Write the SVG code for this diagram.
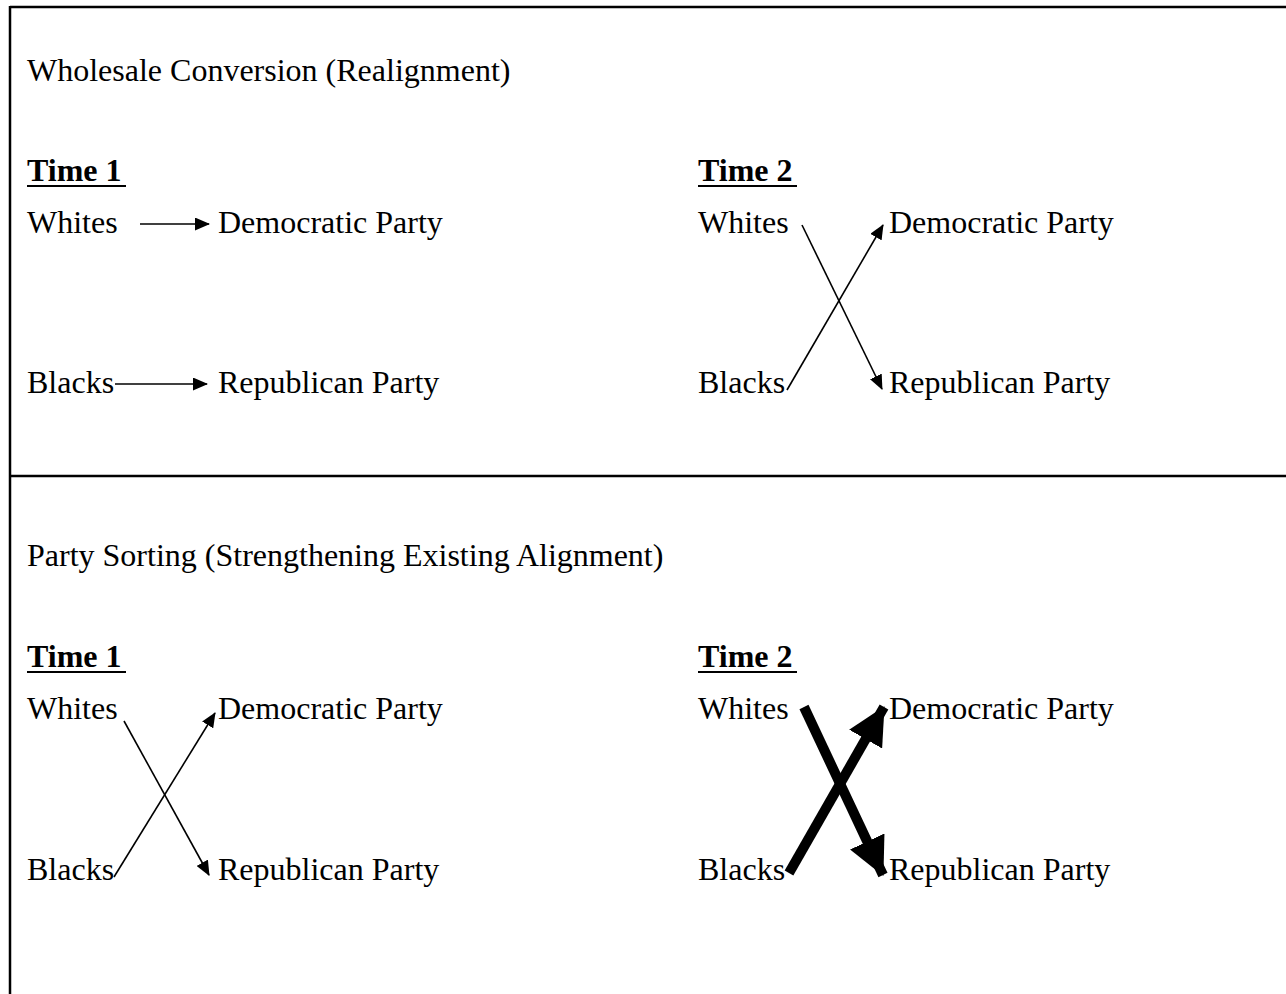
<svg xmlns="http://www.w3.org/2000/svg" width="1286" height="994" viewBox="0 0 1286 994">
<style>
text{font-family:"Liberation Serif","Times New Roman",serif;font-size:32px;fill:#000}
.b{font-weight:bold}
.frame{stroke:#000;stroke-width:2.5;fill:none}
.thin{stroke:#000;stroke-width:1.6;fill:none}
.thick{stroke:#000;stroke-width:10;fill:none}
</style>
<defs>
<marker id="ah" markerUnits="userSpaceOnUse" markerWidth="15" markerHeight="13" refX="14" refY="6.5" orient="auto"><path d="M0,0 L15,6.5 L0,13 Z" fill="#000"/></marker>
<marker id="ahb" markerUnits="userSpaceOnUse" markerWidth="38" markerHeight="38" refX="37" refY="19" orient="auto"><path d="M0,0 L38,19 L0,38 Z" fill="#000"/></marker>
</defs>
<g id="frame">
<line class="frame" x1="10" y1="7" x2="1286" y2="7"/>
<line class="frame" x1="10" y1="6" x2="10" y2="994"/>
<line class="frame" x1="10" y1="476" x2="1286" y2="476"/>
</g>
<g id="section1">
<text x="27" y="81">Wholesale Conversion (Realignment)</text>
</g>
<g id="s1t1-label"><text class="b" x="27" y="181">Time 1</text><line x1="27" y1="186" x2="126" y2="186" stroke="#000" stroke-width="2"/></g>
<g id="s1t1-whites"><text x="27" y="233">Whites</text></g>
<g id="s1t1-dem"><text x="218" y="233">Democratic Party</text></g>
<g id="s1t1-blacks"><text x="27" y="393">Blacks</text></g>
<g id="s1t1-rep"><text x="218" y="393">Republican Party</text></g>
<g id="s1t2-label"><text class="b" x="698" y="181">Time 2</text><line x1="698" y1="186" x2="797" y2="186" stroke="#000" stroke-width="2"/></g>
<g id="s1t2-whites"><text x="698" y="233">Whites</text></g>
<g id="s1t2-dem"><text x="889" y="233">Democratic Party</text></g>
<g id="s1t2-blacks"><text x="698" y="393">Blacks</text></g>
<g id="s1t2-rep"><text x="889" y="393">Republican Party</text></g>
<g id="section2">
<text x="27" y="566">Party Sorting (Strengthening Existing Alignment)</text>
</g>
<g id="s2t1-label"><text class="b" x="27" y="667">Time 1</text><line x1="27" y1="672" x2="126" y2="672" stroke="#000" stroke-width="2"/></g>
<g id="s2t1-whites"><text x="27" y="719">Whites</text></g>
<g id="s2t1-dem"><text x="218" y="719">Democratic Party</text></g>
<g id="s2t1-blacks"><text x="27" y="880">Blacks</text></g>
<g id="s2t1-rep"><text x="218" y="880">Republican Party</text></g>
<g id="s2t2-label"><text class="b" x="698" y="667">Time 2</text><line x1="698" y1="672" x2="797" y2="672" stroke="#000" stroke-width="2"/></g>
<g id="s2t2-whites"><text x="698" y="719">Whites</text></g>
<g id="s2t2-dem"><text x="889" y="719">Democratic Party</text></g>
<g id="s2t2-blacks"><text x="698" y="880">Blacks</text></g>
<g id="s2t2-rep"><text x="889" y="880">Republican Party</text></g>
<g id="connectors">
<line class="thin" x1="140" y1="224" x2="209" y2="224" marker-end="url(#ah)"/>
<line class="thin" x1="115" y1="384" x2="207" y2="384" marker-end="url(#ah)"/>
<line class="thin" x1="802" y1="225" x2="882" y2="389" marker-end="url(#ah)"/>
<line class="thin" x1="787" y1="390" x2="883" y2="225" marker-end="url(#ah)"/>
<line class="thin" x1="124" y1="721" x2="209" y2="875" marker-end="url(#ah)"/>
<line class="thin" x1="114" y1="877" x2="215" y2="713" marker-end="url(#ah)"/>
<line class="thick" x1="804" y1="707" x2="883" y2="875" marker-end="url(#ahb)"/>
<line class="thick" x1="789" y1="873" x2="884" y2="707" marker-end="url(#ahb)"/>
</g>
</svg>
